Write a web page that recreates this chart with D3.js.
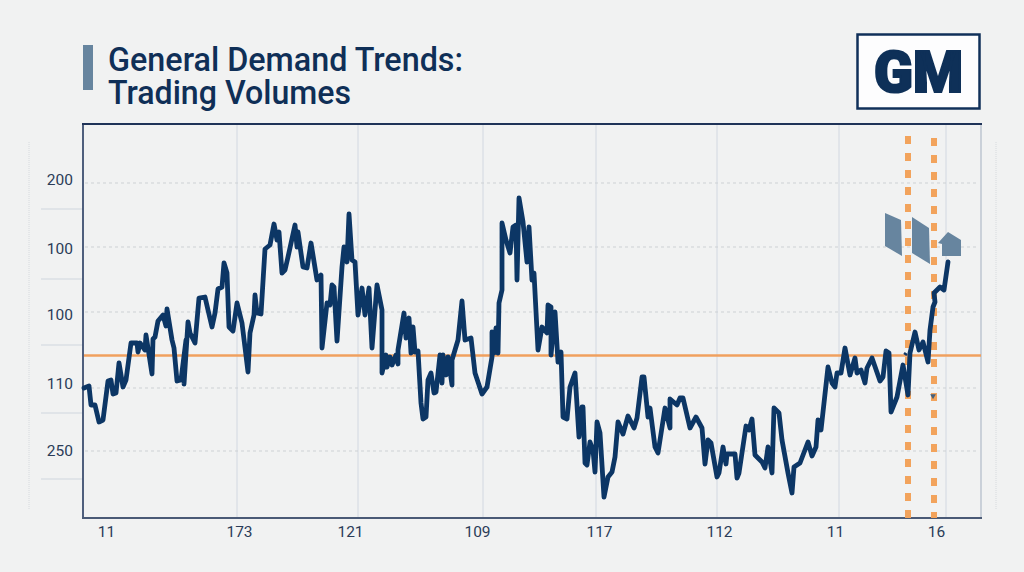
<!DOCTYPE html>
<html><head><meta charset="utf-8">
<script src="https://cdn.jsdelivr.net/npm/d3@7/dist/d3.min.js"></script>
<style>html,body{margin:0;padding:0;background:#f1f2f2;overflow:hidden}svg{display:block}text{font-family:Roboto,sans-serif}</style>
</head><body><svg id="c" width="1024" height="572"></svg>
<script>
const sessions=[1,6,8,12,16,20,25,28,30,33,36,40,43,48,54,55,57,62,63,69,70,72,75,80,83,84,89,91,94,98,103,101,105,107,112,116,122,125,129,132,135,139,141,144,146,150,154,159,165,167,171,172,174,178,182,187,191,194,196,199,202,205,212,214,215,220,224,228,234,238,239,244,247,249,251,254,259,261,264,266,269,272,275,279,282,286,289,294,299,299,303,304,307,309,313,315,315,321,323,326,328,330,332,335,338,340,343,345,348,351,353,357,359,360,363,365,369,369,375,379,382,388,392,399,404,409,409,411,413,415,416,419,419,423,427,430,433,434,436,440,444,446,449,451,455,459,464,465,468,468,472,475,478,480,484,487,492,496,499,500,502,504,507,510,512,514,517,521,525,529,532,535,540,545,551,554,559,561,565,567,572,575,582,587,587,594,597,600,607,613,619,622,625,628,634,636,640,643,644,652,654,656,663,666,669,672,679,682,685,689,691,696,699,705,709,711,717,725,729,733,735,738,745,749,752,754,758,762,767,772,774,778,782,784,789,797,800,803,806,808,814,820,825,827,832,836,840,845,847,850,852,851,857,861,865];
const volumes=[129,131,112,112,95,97,136,137,123,124,154,130,137,174,174,165,174,167,182,143,178,180,196,202,191,208,177,169,136,137,177,133,195,184,174,219,220,207,190,204,228,230,254,244,190,186,214,194,145,184,202,222,204,203,268,272,293,277,285,244,247,260,292,270,285,250,249,274,237,242,169,214,212,232,230,176,250,270,255,303,257,255,202,229,202,229,169,232,207,144,162,150,160,152,162,153,167,204,179,199,164,190,165,166,114,98,100,137,144,124,125,162,134,162,142,160,132,157,177,216,177,179,144,123,130,160,185,164,189,164,214,227,294,277,264,290,292,237,319,295,255,290,237,244,167,190,184,212,210,162,205,155,165,100,98,130,144,80,110,110,54,52,75,67,45,95,84,20,40,45,60,95,83,101,89,99,140,140,100,109,70,64,109,89,118,112,119,119,89,100,89,53,77,74,40,44,70,53,63,63,39,44,91,87,98,62,55,49,70,44,109,104,77,44,24,50,54,75,61,70,97,87,150,134,130,144,144,169,142,159,144,147,134,149,159,136,140,166,164,105,120,152,122,164,185,167,175,155,187,210,215,224,230,227,255];
const yLabels=["200","100","100","110","250"];
const yLabelLevels=[337,268,202,133,66];
const yDashedLevels=[334,270,205,129,66];
const yOuterLevels=[308,238,172,104,38];
const xLabels=["11","173","121","109","117","112","11","16"];
const xLabelSessions=[23,156,267,394,516,636,752,853];
const xGridSessions=[154,275,400,513,634,756,863];
const referenceLevel=161.5;
const eventSessions=[825,851];
const flagA=[[802,304],[818,297],[819,261],[802,271]];
const flagB=[[829,300],[846,289],[847,253],[829,264]];
const house=[[865,285],[878,277],[878,261],[859,261],[859,273],[855,274]];
const stub=[[821,164],[824,162]];
const titleLines=["General Demand Trends:","Trading Volumes"];
const titleWidths=[355,243];

const svg=d3.select("#c");
const x=d3.scaleLinear().domain([0,898]).range([83,981]);
const y=d3.scaleLinear().domain([0,393]).range([517,124]);
const navy="#0c3665",orange="#f2a35c",slate="#67859f";

// title
svg.append("rect").attr("x",83).attr("y",45).attr("width",10).attr("height",45).attr("fill",slate);
svg.selectAll("text.t").data(titleLines).join("text").attr("class","t")
  .attr("x",108).attr("y",(d,i)=>71+i*33).attr("fill","#0f2f57")
  .attr("textLength",(d,i)=>titleWidths[i]).attr("lengthAdjust","spacingAndGlyphs")
  .attr("font-size",33).attr("font-weight",500).text(d=>d);

// logo
svg.append("rect").attr("x",857.5).attr("y",34.5).attr("width",122).attr("height",74)
  .attr("fill","#fdfdfe").attr("stroke","#10305a").attr("stroke-width",2.5);
svg.append("text").attr("x",874).attr("y",92).attr("textLength",89).attr("lengthAdjust","spacingAndGlyphs")
  .attr("font-size",57).attr("font-weight",900).attr("fill","#0e3058").attr("stroke","#0e3058").attr("stroke-width",2.2)
  .text("GM");

// outer rules
[29,996].forEach(px=>svg.append("line").attr("x1",px).attr("x2",px).attr("y1",y(375)).attr("y2",y(7))
  .attr("stroke","#d6dade").attr("stroke-width",1).attr("stroke-dasharray","1 1"));
svg.selectAll("line.o").data(yOuterLevels).join("line").attr("class","o")
  .attr("x1",41).attr("x2",83).attr("y1",d=>y(d)).attr("y2",d=>y(d))
  .attr("stroke","#d0d6de").attr("stroke-width",1.2);

// grid
svg.selectAll("line.v").data(xGridSessions).join("line").attr("class","v")
  .attr("x1",d=>x(d)).attr("x2",d=>x(d)).attr("y1",y(393)).attr("y2",y(-1))
  .attr("stroke","#d2d8e1").attr("stroke-width",1);
svg.selectAll("line.h").data(yDashedLevels).join("line").attr("class","h")
  .attr("x1",x(2)).attr("x2",x(895)).attr("y1",d=>y(d)).attr("y2",d=>y(d))
  .attr("stroke","#cdd1d4").attr("stroke-width",1).attr("stroke-dasharray","3 3");

// frame
svg.append("line").attr("x1",x(898)).attr("x2",x(898)).attr("y1",y(393)).attr("y2",y(-1)).attr("stroke","#a3afc0").attr("stroke-width",1);
svg.append("line").attr("x1",83).attr("x2",83).attr("y1",y(393)).attr("y2",y(-1)).attr("stroke","#3d4f70").attr("stroke-width",1.8);
svg.append("line").attr("x1",82).attr("x2",982).attr("y1",y(393)).attr("y2",y(393)).attr("stroke","#1f3358").attr("stroke-width",1.8);
svg.append("line").attr("x1",82).attr("x2",982).attr("y1",y(-1)).attr("y2",y(-1)).attr("stroke","#4a5a76").attr("stroke-width",1.8);

// reference + events
svg.append("line").attr("x1",x(1)).attr("x2",x(898)).attr("y1",y(referenceLevel)).attr("y2",y(referenceLevel))
  .attr("stroke","#f0a05e").attr("stroke-width",2.6);
svg.selectAll("line.e").data(eventSessions).join("line").attr("class","e")
  .attr("x1",d=>x(d)).attr("x2",d=>x(d)).attr("y1",(d,i)=>y(i?379:381)).attr("y2",y(-1))
  .attr("stroke",orange).attr("stroke-width",6).attr("stroke-dasharray","8 9");

// glyphs
const poly=d3.line().x(d=>x(d[0])).y(d=>y(d[1])).curve(d3.curveLinearClosed);
[flagA,flagB,house].forEach(p=>svg.append("path").attr("d",poly(p)).attr("fill",slate));

// series
const line=d3.line().x(d=>x(d[0])).y(d=>y(d[1]));
svg.append("path").attr("d",line(sessions.map((s,i)=>[s,volumes[i]])))
  .attr("fill","none").attr("stroke",navy).attr("stroke-width",4.8).attr("stroke-linejoin","round").attr("stroke-linecap","round");
svg.append("path").attr("d",line(stub))
  .attr("fill","none").attr("stroke",navy).attr("stroke-width",2.5);
svg.append("path").attr("d",d3.symbol(d3.symbolTriangle,14)()).attr("fill","#45607c")
  .attr("transform",`translate(${x(850)},${y(121)}) rotate(180)`);

// axes
const yAxis=d3.axisLeft(y).tickValues(yLabelLevels).tickSize(0).tickPadding(10).tickFormat((d,i)=>yLabels[i]);
const gy=svg.append("g").attr("transform","translate(83,0)").call(yAxis);
const xAxis=d3.axisBottom(x).tickValues(xLabelSessions).tickSize(0).tickPadding(8).tickFormat((d,i)=>xLabels[i]);
const gx=svg.append("g").attr("transform","translate(0,518)").call(xAxis);
[gy,gx].forEach(g=>{g.select(".domain").remove();
  g.selectAll("text").attr("fill","#2b3c58").attr("font-size",15.5).style("font-family","Roboto,sans-serif");});
</script></body></html>
